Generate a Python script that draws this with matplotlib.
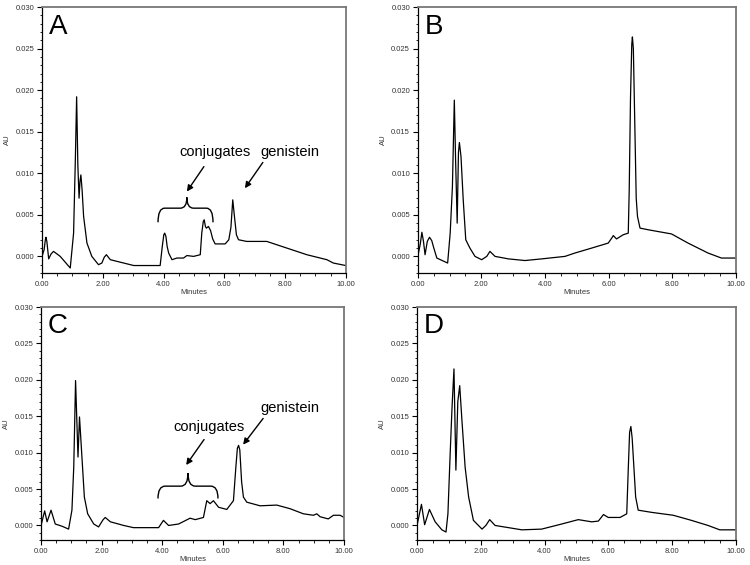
import matplotlib

matplotlib.use("Agg")
import matplotlib.pyplot as plt
from matplotlib.patches import PathPatch
from matplotlib.path import Path
from matplotlib.ticker import MultipleLocator, FormatStrFormatter

plt.rcParams["font.family"] = ["Liberation Sans", "DejaVu Sans"]

# 色谱曲线，时间：分钟，响应：AU
A_T = [0.00, 0.07, 0.11, 0.13, 0.16, 0.22, 0.30, 0.38, 0.60, 0.93, 1.04, 1.10, 1.14, 1.18,
       1.22, 1.25, 1.28, 1.32, 1.37, 1.48, 1.64, 1.86, 1.97, 2.05, 2.12, 2.25, 2.58, 3.02,
       3.45, 3.89, 3.96, 4.01, 4.04, 4.08, 4.12, 4.17, 4.28, 4.44, 4.66, 4.77, 4.99, 5.21,
       5.26, 5.31, 5.34, 5.38, 5.41, 5.48, 5.55, 5.62, 5.70, 6.03, 6.15, 6.22, 6.28, 6.33,
       6.40, 6.47, 6.74, 7.40, 8.06, 8.72, 9.38, 9.59, 10.00]
A_V = [0.0000, 0.0008, 0.0020, 0.0023, 0.0018, -0.0003, 0.0003, 0.0006, 0.0000, -0.0014,
       0.0028, 0.0120, 0.0192, 0.0110, 0.0070, 0.0090, 0.0098, 0.0080, 0.0048, 0.0016,
       0.0000, -0.0010, -0.0008, -0.0001, 0.0002, -0.0004, -0.0007, -0.0011, -0.0011,
       -0.0011, 0.0012, 0.0026, 0.0028, 0.0024, 0.0012, 0.0004, -0.0004, -0.0002, -0.0002,
       0.0001, 0.0000, 0.0002, 0.0028, 0.0042, 0.0044, 0.0036, 0.0034, 0.0036, 0.0031,
       0.0021, 0.0015, 0.0015, 0.0020, 0.0035, 0.0068, 0.0050, 0.0026, 0.0020, 0.0018,
       0.0018, 0.0010, 0.0002, -0.0004, -0.0008, -0.0011]

B_T = [0.00, 0.08, 0.13, 0.18, 0.23, 0.30, 0.37, 0.44, 0.49, 0.60, 0.94, 1.02, 1.09, 1.15,
       1.19, 1.24, 1.28, 1.31, 1.36, 1.43, 1.51, 1.64, 1.80, 2.01, 2.17, 2.27, 2.43, 2.85,
       3.37, 3.90, 4.63, 4.94, 5.47, 5.99, 6.10, 6.15, 6.25, 6.46, 6.62, 6.65, 6.69, 6.73,
       6.75, 6.78, 6.82, 6.87, 6.91, 6.99, 7.25, 7.98, 8.50, 9.13, 9.55, 10.00]
B_V = [0.0000, 0.0015, 0.0029, 0.0018, 0.0002, 0.0018, 0.0023, 0.0019, 0.0012, -0.0002,
       -0.0008, 0.0028, 0.0084, 0.0188, 0.0116, 0.0040, 0.0125, 0.0137, 0.0120, 0.0068,
       0.0020, 0.0010, 0.0000, -0.0004, 0.0000, 0.0006, 0.0000, -0.0003, -0.0005, -0.0003,
       0.0000, 0.0004, 0.0010, 0.0016, 0.0022, 0.0025, 0.0021, 0.0026, 0.0028, 0.0080,
       0.0190, 0.0255, 0.0264, 0.0250, 0.0170, 0.0070, 0.0048, 0.0034, 0.0032, 0.0027,
       0.0016, 0.0004, -0.0002, -0.0002]

C_T = [0.00, 0.12, 0.20, 0.33, 0.47, 0.69, 0.91, 1.02, 1.08, 1.14, 1.22, 1.27, 1.35, 1.43,
       1.54, 1.74, 1.90, 2.05, 2.12, 2.29, 2.73, 3.05, 3.88, 4.04, 4.21, 4.54, 4.92, 5.09,
       5.36, 5.47, 5.58, 5.69, 5.86, 6.13, 6.35, 6.43, 6.48, 6.52, 6.56, 6.62, 6.68, 6.79,
       7.23, 7.78, 8.22, 8.66, 8.99, 9.10, 9.21, 9.48, 9.65, 9.87, 10.00]
C_V = [0.0000, 0.0020, 0.0005, 0.0021, 0.0002, -0.0001, -0.0005, 0.0021, 0.0080, 0.0199,
       0.0094, 0.0149, 0.0094, 0.0039, 0.0016, 0.0002, -0.0002, 0.0008, 0.0011, 0.0005,
       0.0000, -0.0003, -0.0003, 0.0007, 0.0000, 0.0002, 0.0010, 0.0008, 0.0011, 0.0034,
       0.0030, 0.0034, 0.0025, 0.0022, 0.0034, 0.0080, 0.0106, 0.0110, 0.0104, 0.0060,
       0.0039, 0.0032, 0.0027, 0.0028, 0.0023, 0.0016, 0.0014, 0.0016, 0.0012, 0.0009,
       0.0014, 0.0014, 0.0011]

D_T = [0.00, 0.14, 0.24, 0.39, 0.57, 0.78, 0.91, 0.97, 1.04, 1.10, 1.16, 1.22, 1.28, 1.34,
       1.41, 1.51, 1.62, 1.77, 2.04, 2.16, 2.28, 2.45, 2.87, 3.29, 3.91, 4.54, 5.06, 5.48,
       5.69, 5.85, 6.00, 6.37, 6.58, 6.63, 6.67, 6.71, 6.75, 6.78, 6.86, 6.94, 7.36, 8.04,
       8.61, 9.13, 9.50, 10.00]
D_V = [0.0000, 0.0029, 0.0001, 0.0022, 0.0005, -0.0006, -0.0009, 0.0016, 0.0098, 0.0163,
       0.0215, 0.0076, 0.0170, 0.0192, 0.0144, 0.0080, 0.0039, 0.0007, -0.0005, 0.0000,
       0.0008, 0.0000, -0.0003, -0.0006, -0.0005, 0.0002, 0.0008, 0.0005, 0.0006, 0.0015,
       0.0011, 0.0011, 0.0016, 0.0080, 0.0128, 0.0136, 0.0120, 0.0098, 0.0039, 0.0021,
       0.0018, 0.0014, 0.0007, 0.0000, -0.0006, -0.0006]

PANELS = [
    ("A", A_T, A_V, [0.056, 0.5168, 0.405, 0.4708]),
    ("B", B_T, B_V, [0.557, 0.5168, 0.424, 0.4708]),
    ("C", C_T, C_V, [0.0547, 0.0442, 0.404, 0.4124]),
    ("D", D_T, D_V, [0.556, 0.0442, 0.425, 0.4124]),
]


def draw_brace(ax, x0, x1, xm, y_low, y_mid, y_tip):
    d = (x1 - x0) * 0.12
    verts = [
        (x0, y_low), (x0, y_mid), (x0 + d, y_mid),
        (xm - d, y_mid), (xm, y_mid), (xm, y_tip),
        (xm, y_mid), (xm + d, y_mid),
        (x1 - d, y_mid), (x1, y_mid), (x1, y_low),
    ]
    codes = [Path.MOVETO, Path.CURVE3, Path.CURVE3,
             Path.LINETO, Path.CURVE3, Path.CURVE3,
             Path.CURVE3, Path.CURVE3,
             Path.LINETO, Path.CURVE3, Path.CURVE3]
    ax.add_patch(PathPatch(Path(verts, codes), fill=False, lw=1.0, color="black"))


def arrow(ax, start, end):
    ax.annotate("", xy=end, xytext=start,
                arrowprops=dict(arrowstyle="-|>", color="black", lw=1.0,
                                mutation_scale=9, shrinkA=0, shrinkB=0))


def style_axes(ax):
    ax.set_xlim(0, 10)
    ax.set_ylim(-0.002, 0.030)
    ax.xaxis.set_major_locator(MultipleLocator(2))
    ax.xaxis.set_minor_locator(MultipleLocator(0.5))
    ax.yaxis.set_major_locator(MultipleLocator(0.005))
    ax.yaxis.set_minor_locator(MultipleLocator(0.001))
    ax.xaxis.set_major_formatter(FormatStrFormatter("%.2f"))
    ax.yaxis.set_major_formatter(FormatStrFormatter("%.3f"))
    ax.tick_params(which="major", direction="out", length=3.5, width=0.8,
                   labelsize=5.5, labelcolor="#333333", pad=2)
    ax.tick_params(which="minor", direction="out", length=1.8, width=0.6)
    for side in ("left", "bottom"):
        ax.spines[side].set_color("black")
        ax.spines[side].set_linewidth(0.9)
    for side in ("top", "right"):
        ax.spines[side].set_color("#777777")
        ax.spines[side].set_linewidth(1.3)
    ax.set_xlabel("Minutes", fontsize=5.5, color="#333333", labelpad=1)
    ax.set_ylabel("AU", fontsize=5.5, color="#333333", labelpad=3)


fig = plt.figure(figsize=(7.5, 5.65), dpi=100)
axes = {}
for name, t, v, rect in PANELS:
    ax = fig.add_axes(rect)
    ax.plot(t, v, color="black", lw=0.9)
    style_axes(ax)
    ax.text(0.022, 0.975, name, transform=ax.transAxes, fontsize=20,
            va="top", ha="left")
    axes[name] = ax

# A 注释
ax = axes["A"]
ax.text(4.52, 0.0126, "conjugates", fontsize=10.5, va="center", ha="left")
ax.text(7.18, 0.0126, "genistein", fontsize=10.5, va="center", ha="left")
arrow(ax, (5.33, 0.0108), (4.77, 0.0078))
arrow(ax, (7.27, 0.0113), (6.68, 0.0082))
draw_brace(ax, 3.82, 5.63, 4.77, 0.0041, 0.0058, 0.0071)

# C 注释
ax = axes["C"]
ax.text(4.36, 0.0135, "conjugates", fontsize=10.5, va="center", ha="left")
ax.text(7.24, 0.0161, "genistein", fontsize=10.5, va="center", ha="left")
arrow(ax, (5.38, 0.0118), (4.79, 0.0083))
arrow(ax, (7.33, 0.0147), (6.67, 0.0111))
draw_brace(ax, 3.86, 5.84, 4.85, 0.0037, 0.0054, 0.0072)

fig.savefig("out.png", dpi=100)
